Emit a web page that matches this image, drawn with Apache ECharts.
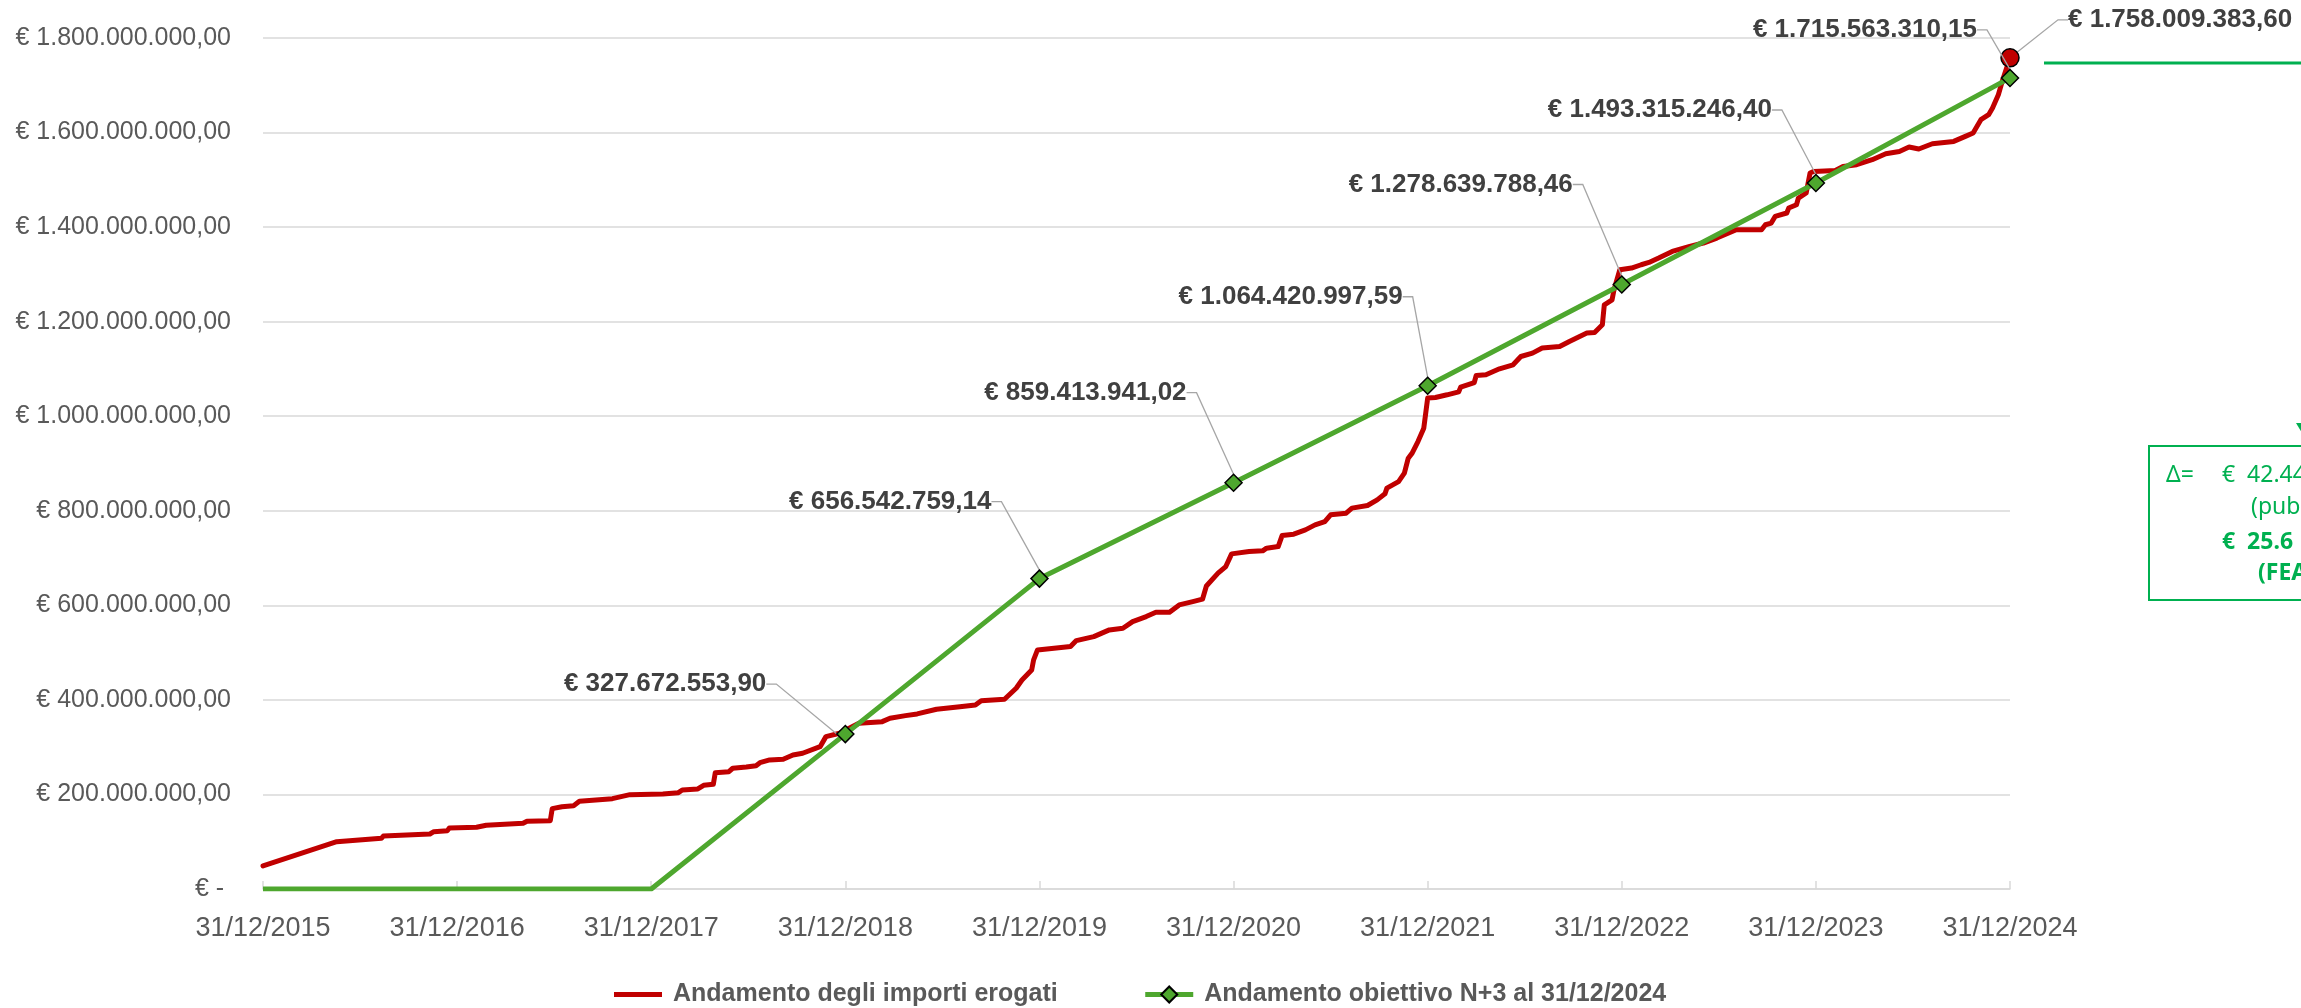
<!DOCTYPE html>
<html>
<head>
<meta charset="utf-8">
<title>Andamento importi erogati</title>
<script src="https://cdn.jsdelivr.net/npm/echarts@6/dist/echarts.min.js"></script>
<style>
  html, body { margin: 0; padding: 0; background: #fff; }
  #chart { width: 2301px; height: 1008px; }
</style>
</head>
<body>
<div id="chart"></div>
<script>
// x is in years: 2015 = 31/12/2015, 2016 = 31/12/2016, ...
const xTickLabels = ['31/12/2015', '31/12/2016', '31/12/2017', '31/12/2018', '31/12/2019',
  '31/12/2020', '31/12/2021', '31/12/2022', '31/12/2023', '31/12/2024'];

const targetName = 'Andamento obiettivo N+3 al 31/12/2024';
const targetYears = [2015, 2016, 2017, 2018, 2019, 2020, 2021, 2022, 2023, 2024];
const targetEuro = [0, 0, 0, 327672553.90, 656542759.14, 859413941.02, 1064420997.59,
  1278639788.46, 1493315246.40, 1715563310.15];

const spentName = 'Andamento degli importi erogati';
const spentYears = [
  2015.00, 2015.38, 2015.61, 2015.62, 2015.86, 2015.88, 2015.95, 2015.96, 2016.10, 2016.15,
  2016.34, 2016.36, 2016.48, 2016.49, 2016.54, 2016.60, 2016.63, 2016.80, 2016.89, 2017.06,
  2017.14, 2017.16, 2017.24, 2017.27, 2017.32, 2017.33, 2017.40, 2017.42, 2017.49, 2017.54,
  2017.56, 2017.61, 2017.68, 2017.73, 2017.78, 2017.87, 2017.90, 2017.97, 2018.07, 2018.19,
  2018.23, 2018.31, 2018.37, 2018.47, 2018.59, 2018.67, 2018.70, 2018.82, 2018.88, 2018.91,
  2018.96, 2018.97, 2018.99, 2019.16, 2019.19, 2019.28, 2019.36, 2019.43, 2019.48, 2019.55,
  2019.60, 2019.67, 2019.72, 2019.79, 2019.84, 2019.86, 2019.92, 2019.96, 2019.99, 2020.08,
  2020.15, 2020.17, 2020.23, 2020.25, 2020.31, 2020.37, 2020.42, 2020.47, 2020.50, 2020.58,
  2020.61, 2020.69, 2020.74, 2020.78, 2020.79, 2020.85, 2020.88, 2020.90, 2020.92, 2020.95,
  2020.98, 2020.99, 2021.00, 2021.04, 2021.10, 2021.16, 2021.17, 2021.24, 2021.25, 2021.30,
  2021.37, 2021.44, 2021.48, 2021.54, 2021.59, 2021.68, 2021.73, 2021.82, 2021.86, 2021.90,
  2021.91, 2021.95, 2021.96, 2021.99, 2022.05, 2022.10, 2022.14, 2022.19, 2022.26, 2022.35,
  2022.42, 2022.49, 2022.59, 2022.72, 2022.74, 2022.77, 2022.79, 2022.85, 2022.86, 2022.90,
  2022.91, 2022.95, 2022.97, 2022.99, 2023.10, 2023.14, 2023.21, 2023.29, 2023.36, 2023.43,
  2023.48, 2023.53, 2023.60, 2023.71, 2023.77, 2023.81, 2023.85, 2023.89, 2023.91, 2023.94,
  2023.96, 2024.00
];
const spentEuro = [
  48.7e6, 100.1e6, 107.3e6, 112.1e6, 116.4e6, 121.2e6, 123.4e6, 129.1e6, 130.6e6, 134.8e6,
  139.0e6, 143.3e6, 144.5e6, 169.9e6, 174.1e6, 176.3e6, 185.6e6, 191.1e6, 199.5e6, 201.0e6,
  203.8e6, 209.5e6, 211.6e6, 219.4e6, 221.5e6, 246.1e6, 248.2e6, 255.4e6, 258.1e6, 260.9e6,
  267.2e6, 273.0e6, 274.5e6, 283.5e6, 287.1e6, 301.1e6, 322.3e6, 329.5e6, 350.6e6, 354.0e6,
  361.2e6, 366.7e6, 370.3e6, 380.2e6, 385.7e6, 389.3e6, 398.4e6, 401.4e6, 424.7e6, 442.2e6,
  463.4e6, 484.6e6, 505.7e6, 512.7e6, 525.4e6, 533.9e6, 548.0e6, 551.6e6, 565.6e6, 576.2e6,
  585.5e6, 585.5e6, 600.9e6, 607.9e6, 613.0e6, 641.0e6, 668.0e6, 682.0e6, 708.8e6, 713.7e6,
  715.2e6, 720.9e6, 724.3e6, 747.6e6, 750.5e6, 759.6e6, 770.2e6, 777.2e6, 791.4e6, 795.0e6,
  805.6e6, 811.1e6, 823.1e6, 835.8e6, 847.9e6, 861.8e6, 879.6e6, 911.3e6, 921.9e6, 946.5e6,
  974.8e6, 1006.6e6, 1038.3e6, 1039.6e6, 1045.3e6, 1051.6e6, 1061.6e6, 1071.3e6, 1086.1e6, 1087.6e6,
  1100.3e6, 1108.8e6, 1126.3e6, 1133.5e6, 1144.1e6, 1147.5e6, 1158.1e6, 1175.8e6, 1177.1e6, 1193.4e6,
  1235.7e6, 1246.3e6, 1267.5e6, 1309.8e6, 1313.4e6, 1320.4e6, 1325.2e6, 1334.5e6, 1348.5e6, 1359.1e6,
  1366.3e6, 1376.9e6, 1394.4e6, 1394.4e6, 1405.0e6, 1408.6e6, 1422.6e6, 1429.8e6, 1440.3e6, 1447.3e6,
  1461.5e6, 1472.1e6, 1514.4e6, 1517.8e6, 1519.9e6, 1528.4e6, 1532.0e6, 1542.5e6, 1555.2e6, 1560.1e6,
  1569.4e6, 1565.2e6, 1576.4e6, 1581.3e6, 1591.9e6, 1599.1e6, 1627.2e6, 1637.8e6, 1651.9e6, 1680.1e6,
  1708.2e6, 1758009383.60
];

// where each callout sits: [text edge - point x, text middle - point y] in px
const targetLabelOffset = [null, null, null, [-79, -50], [-48, -77], [-47, -90], [-25, -89],
  [-49, -100], [-44, -73], [-33, -48]];
const spentLabelOffset = [58, -38];

const FONT = 'Liberation Sans';

function euro(v) {
  const parts = v.toFixed(2).split('.');
  return '€ ' + parts[0].replace(/\B(?=(\d{3})+(?!\d))/g, '.') + ',' + parts[1];
}

const lastSpent = spentYears.length - 1;
const spentData = spentYears.map((x, i) => {
  if (i !== lastSpent) return [x, spentEuro[i]];
  return {
    value: [x, spentEuro[i]],
    symbol: 'circle',
    symbolSize: 18,
    label: { show: true }
  };
});

const targetData = targetYears.map((x, i) => {
  if (targetLabelOffset[i]) return [x, targetEuro[i]];
  return { value: [x, targetEuro[i]], symbol: 'none' };
});

const delta = spentEuro[lastSpent] - targetEuro[targetEuro.length - 1];

const chart = echarts.init(document.getElementById('chart'));

const calloutLine = {
  show: true,
  length2: 10,
  lineStyle: { color: '#a6a6a6', width: 1.3 }
};

const boxFont = '23px "Noto Sans"';
const boxFontBold = 'bold 23px "Noto Sans"';

const option = {
  animation: false,
  backgroundColor: '#fff',
  grid: { left: 263, right: 291, top: 38, bottom: 119 },
  legend: {
    left: 609,
    top: 977,
    itemWidth: 48,
    itemHeight: 20,
    itemGap: 85,
    textStyle: { fontFamily: FONT, fontSize: 25, fontWeight: 'bold', color: '#595959', padding: [0, 0, 0, 6] },
    data: [
      { name: spentName, icon: 'path://M0,0H48V5H0Z', itemStyle: { borderWidth: 0 } },
      { name: targetName, lineStyle: { width: 5 } }
    ]
  },
  xAxis: {
    type: 'value',
    min: 2015,
    max: 2024,
    interval: 1,
    splitLine: { show: false },
    axisLine: { lineStyle: { color: '#d9d9d9', width: 1.5 } },
    axisTick: { show: true, inside: true, length: 8, lineStyle: { color: '#d9d9d9', width: 1.5 } },
    axisLabel: {
      margin: 26,
      fontFamily: FONT,
      fontSize: 27,
      color: '#595959',
      formatter: v => xTickLabels[Math.round(v - 2015)]
    }
  },
  yAxis: {
    type: 'value',
    min: 0,
    max: 1800000000,
    interval: 200000000,
    axisLine: { show: false },
    axisTick: { show: false },
    splitLine: { lineStyle: { color: '#d9d9d9', width: 1.5 } },
    axisLabel: {
      margin: 32,
      fontFamily: FONT,
      fontSize: 25,
      color: '#595959',
      formatter: v => (v === 0 ? '€ - ' : euro(v))
    }
  },
  series: [
    {
      name: spentName,
      type: 'line',
      data: spentData,
      symbol: 'none',
      itemStyle: { color: '#C00000', borderColor: '#000', borderWidth: 1.5 },
      lineStyle: { color: '#C00000', width: 5, cap: 'round', join: 'round' },
      label: {
        show: false,
        formatter: p => euro(p.value[1]),
        fontFamily: FONT,
        fontSize: 26,
        fontWeight: 'bold',
        color: '#404040',
        padding: [0, 0, 0, 14]
      },
      labelLine: calloutLine,
      labelLayout: p => {
        if (p.dataIndex !== lastSpent) return {};
        return {
          x: p.rect.x + p.rect.width / 2 + spentLabelOffset[0] - 14,
          y: p.rect.y + p.rect.height / 2 + spentLabelOffset[1],
          align: 'left',
          verticalAlign: 'middle'
        };
      },
      z: 2
    },
    {
      name: targetName,
      type: 'line',
      data: targetData,
      symbol: 'diamond',
      symbolSize: 17,
      itemStyle: { color: '#4EA72E', borderColor: '#000', borderWidth: 1.5 },
      lineStyle: { color: '#4EA72E', width: 5, join: 'round' },
      label: {
        show: true,
        formatter: p => euro(p.value[1]),
        fontFamily: FONT,
        fontSize: 26,
        fontWeight: 'bold',
        color: '#404040',
        padding: [0, 10, 0, 0]
      },
      labelLine: calloutLine,
      labelLayout: p => {
        const off = targetLabelOffset[p.dataIndex];
        if (!off) return {};
        return {
          x: p.rect.x + p.rect.width / 2 + off[0] + 10,
          y: p.rect.y + p.rect.height / 2 + off[1],
          align: 'right',
          verticalAlign: 'middle'
        };
      },
      z: 3
    }
  ],
  graphic: [
    { type: 'line', shape: { x1: 2044, y1: 63, x2: 2301, y2: 63 }, style: { stroke: '#00B050', lineWidth: 3 } },
    { type: 'polygon', shape: { points: [[2296, 423], [2312, 423], [2304, 436]] }, style: { fill: '#00B050' } },
    { type: 'rect', shape: { x: 2149, y: 446, width: 300, height: 154 }, style: { fill: '#fff', stroke: '#00B050', lineWidth: 2 } },
    { type: 'text', x: 2166, y: 475, style: { text: 'Δ=', fill: '#00B050', font: boxFont, verticalAlign: 'middle' } },
    { type: 'text', x: 2222, y: 475, style: { text: euro(delta).replace('€ ', '€  '), fill: '#00B050', font: boxFont, verticalAlign: 'middle' } },
    { type: 'text', x: 2251, y: 507, style: { text: '(pubblico)', fill: '#00B050', font: boxFont, verticalAlign: 'middle' } },
    { type: 'text', x: 2222, y: 542, style: { text: '€  25.6', fill: '#00B050', font: boxFontBold, verticalAlign: 'middle' } },
    { type: 'text', x: 2258, y: 573, style: { text: '(FEASR)', fill: '#00B050', font: boxFontBold, verticalAlign: 'middle' } }
  ]
};

chart.setOption(option);
</script>
</body>
</html>
